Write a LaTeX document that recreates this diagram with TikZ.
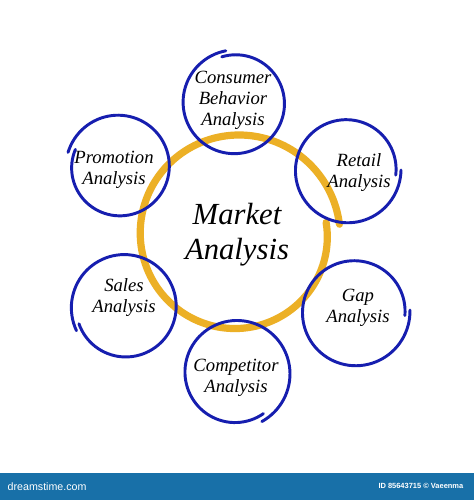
\documentclass[tikz,border=0pt]{standalone}
\usepackage{fontspec}
\setmainfont{Liberation Serif}
\setsansfont{Liberation Sans}
\definecolor{ringblue}{RGB}{22,30,175}
\definecolor{ringgold}{RGB}{236,176,38}
\definecolor{barblue}{RGB}{24,112,168}
\begin{document}
\begin{tikzpicture}[x=0.75pt,y=0.75pt,
    bluering/.style={ringblue, line width=2.2pt, line cap=round},
    goldring/.style={ringgold, line width=5.4pt, line cap=round},
    smalltext/.style={font=\itshape\fontsize{14}{15.8}\selectfont, align=center},
    bigtext/.style={font=\itshape\fontsize{23}{26}\selectfont, align=center}]

    % frame of the picture, same size as the reference
    \useasboundingbox (0,0) rectangle (474,500);
    \fill[white] (0,0) rectangle (474,500);

    % centre of the big ring
    \coordinate (M) at (237,265);
    % centres of the six small rings, going round the big one
    \coordinate (CB) at (235,397);
    \coordinate (RE) at (347,330);
    \coordinate (GA) at (355,188);
    \coordinate (CO) at (236,127);
    \coordinate (SA) at (125,193);
    \coordinate (PR) at (119,333);

    % the big gold ring, drawn as an open loop with overlapping ends
    \draw[goldring, shift={(M)}] plot[domain=6:368, samples=120, smooth] (\x:{103-13*(\x-6)/362});

    % the small blue rings, each left open where the stroke started
    \draw[bluering, shift={(CB)}] plot[domain=100:466, samples=90, smooth] (\x:{53-5*(\x-100)/366});
    \draw[bluering, shift={(RE)}] plot[domain=-6:360, samples=90, smooth] (\x:{49+5*(\x+6)/366});
    \draw[bluering, shift={(GA)}] plot[domain=-4:362, samples=90, smooth] (\x:{50+5*(\x+4)/366});
    \draw[bluering, shift={(CO)}] plot[domain=-62:304, samples=90, smooth] (\x:{55-6*(\x+62)/366});
    \draw[bluering, shift={(SA)}] plot[domain=200:566, samples=90, smooth] (\x:{49+5*(\x-200)/366});
    \draw[bluering, shift={(PR)}] plot[domain=158:524, samples=90, smooth] (\x:{47+6*(\x-158)/366});

    % labels
    \node[bigtext] (market) at (237,265) {Market\\Analysis};
    \node[smalltext] (consumer) at (233,400) {Consumer\\Behavior\\Analysis};
    \node[smalltext] (retail) at (359,327) {Retail\\Analysis};
    \node[smalltext] (gap) at (358,192) {Gap\\Analysis};
    \node[smalltext] (competitor) at (236,122) {Competitor\\Analysis};
    \node[smalltext] (sales) at (124,202) {Sales\\Analysis};
    \node[smalltext] (promotion) at (114,330) {Promotion\\Analysis};

    % stock bar along the bottom
    \fill[barblue] (0,0) rectangle (474,27);
    \node[anchor=west, text=white, font=\sffamily\fontsize{8}{9}\selectfont] (brand) at (3,13) {dreamstime.com};
    \node[anchor=east, text=white, font=\sffamily\bfseries\fontsize{5.6}{6}\selectfont] (credit) at (468,14) {ID 85643715 © Vaeenma};

\end{tikzpicture}
\end{document}
